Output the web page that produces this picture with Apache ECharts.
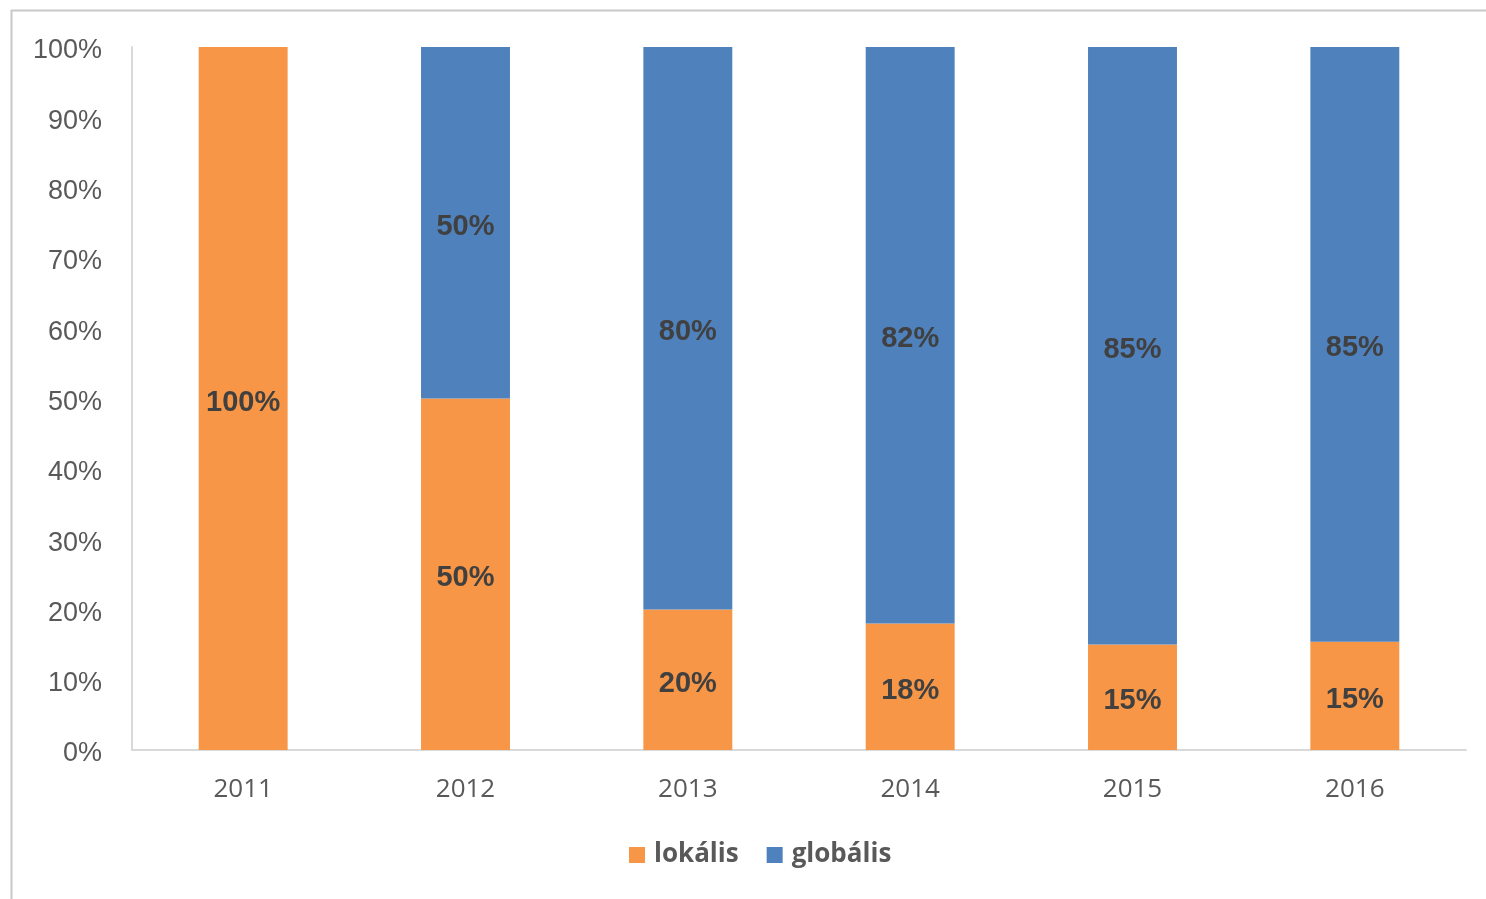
<!DOCTYPE html>
<html>
<head>
<meta charset="utf-8">
<script src="https://cdn.jsdelivr.net/npm/echarts@6/dist/echarts.min.js"></script>
<style>
  html, body { margin: 0; padding: 0; background: #fff; }
  #chart { width: 1486px; height: 899px; }
</style>
</head>
<body>
<div id="chart"></div>
<script>
const years = ['2011', '2012', '2013', '2014', '2015', '2016'];
const lokalis = [100, 50, 20, 18, 15, 15.4];
const globalis = [0, 50, 80, 82, 85, 84.6];
const yTicks = [0, 10, 20, 30, 40, 50, 60, 70, 80, 90, 100];

const chart = echarts.init(document.getElementById('chart'));

const barLabel = {
  show: true,
  position: 'inside',
  offset: [0, 4],
  fontFamily: 'Liberation Sans',
  fontWeight: 'bold',
  fontSize: 29,
  color: '#404040',
  formatter: p => p.value > 0 ? Math.round(p.value) + '%' : ''
};

chart.setOption({
  animation: false,
  grid: { left: 132, right: 20, top: 47, bottom: 149 },
  graphic: [
    { type: 'line', shape: { x1: 11, y1: 10.5, x2: 1486, y2: 10.5 }, style: { stroke: '#c8c8c8', lineWidth: 2 } },
    { type: 'line', shape: { x1: 11.5, y1: 10, x2: 11.5, y2: 899 }, style: { stroke: '#c8c8c8', lineWidth: 2 } }
  ],
  legend: {
    bottom: 26,
    left: 624,
    itemWidth: 16,
    itemHeight: 16,
    itemGap: 28,
    icon: 'rect',
    textStyle: { fontFamily: 'Open Sans', fontWeight: 'bold', fontSize: 26, color: '#595959', padding: [0, 0, 0, 4] },
    data: ['lokális', 'globális']
  },
  xAxis: {
    type: 'category',
    data: years,
    axisLine: { lineStyle: { color: '#d9d9d9', width: 2 } },
    axisTick: { show: false },
    axisLabel: { fontFamily: 'Open Sans', fontSize: 26, color: '#595959', margin: 27 }
  },
  yAxis: {
    type: 'value',
    min: yTicks[0],
    max: yTicks[yTicks.length - 1],
    interval: 10,
    axisLine: { show: true, lineStyle: { color: '#d9d9d9', width: 2 } },
    axisTick: { show: false },
    splitLine: { show: false },
    axisLabel: {
      margin: 30,
      formatter: v => '{t|' + v + '%}',
      rich: { t: { fontFamily: 'Liberation Sans', fontSize: 27, color: '#595959', padding: [8, 0, 0, 0] } }
    }
  },
  series: [
    {
      name: 'lokális',
      type: 'bar',
      stack: 'total',
      barWidth: '40%',
      itemStyle: { color: '#F79646' },
      label: barLabel,
      data: lokalis
    },
    {
      name: 'globális',
      type: 'bar',
      stack: 'total',
      barWidth: '40%',
      itemStyle: { color: '#4F81BD' },
      label: barLabel,
      data: globalis
    }
  ]
});
</script>
</body>
</html>
